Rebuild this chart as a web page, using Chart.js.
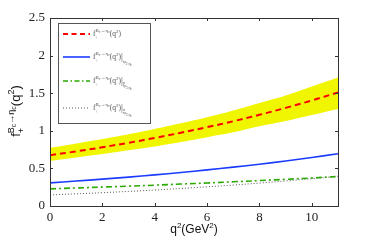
<!DOCTYPE html>
<html><head><meta charset="utf-8">
<script src="https://cdn.jsdelivr.net/npm/chart.js@4"></script>
<style>html,body{margin:0;padding:0;background:#fff}</style>
</head><body>
<canvas id="c" width="374" height="242" style="width:374px;height:242px"></canvas>
<script>
// ---- data ----
const q2 = [0,1,2,3,4,5,6,7,8,9,10,11];
const fTotal = [0.675,0.726,0.781,0.841,0.905,0.974,1.048,1.127,1.213,1.305,1.404,1.510];
const fUpper = [0.770,0.830,0.890,0.955,1.025,1.100,1.180,1.270,1.370,1.470,1.590,1.710];
const fLower = [0.600,0.645,0.690,0.740,0.790,0.850,0.915,0.980,1.060,1.130,1.210,1.290];
const fTw2   = [0.308,0.332,0.357,0.384,0.414,0.446,0.480,0.517,0.556,0.599,0.645,0.695];
const fTw3p  = [0.228,0.240,0.252,0.264,0.277,0.292,0.306,0.322,0.338,0.355,0.373,0.392];
const fTw3s  = [0.148,0.162,0.177,0.194,0.212,0.233,0.255,0.278,0.305,0.333,0.363,0.395];
const xTicks = [0,2,4,6,8,10];
const yTicks = [0,0.5,1,1.5,2,2.5];
const yTickLabels = ['0','0.5','1','1.5','2','2.5'];

const pts = arr => arr.map((v,i)=>({x:q2[i], y:v}));
const SERIF = '"Liberation Serif", "DejaVu Serif", serif';
const SANS = '"Liberation Sans", Arial, sans-serif';

function rich2(ctx, items, x, y, draw, font, color){
  let cx = x;
  for (const it of items){
    if (it.stack){
      let w=0;
      for (const s of it.stack){
        const ww = s.seq ? rich2(ctx, s.seq, cx, y, draw, font, color) : rich2(ctx,[s],cx,y,draw,font,color);
        w=Math.max(w,ww);
      }
      cx+=w;
    } else {
      ctx.font = it.s + 'px ' + (it.font||font);
      const w = ctx.measureText(it.t).width;
      if (draw){ ctx.fillStyle=color; ctx.fillText(it.t, cx, y+(it.dy||0)); }
      cx+=w;
    }
  }
  return cx-x;
}
function rich2Center(ctx, items, x, y, font, color){
  const w = rich2(ctx, items, 0, 0, false, font, color);
  rich2(ctx, items, x-w/2, y, true, font, color);
}

const decor = {
  id:'decor',
  afterDatasetsDraw(chart){
    const ctx = chart.ctx, a = chart.chartArea;
    const xs = chart.scales.x, ys = chart.scales.y;
    ctx.save();
    ctx.strokeStyle = '#333'; ctx.lineWidth = 1;
    ctx.strokeRect(Math.round(a.left)+0.5, Math.round(a.top)+0.5, Math.round(a.right-a.left), Math.round(a.bottom-a.top));
    ctx.beginPath();
    for (const v of xTicks){
      const px = Math.round(xs.getPixelForValue(v))+0.5;
      ctx.moveTo(px, a.bottom); ctx.lineTo(px, a.bottom-3);
      ctx.moveTo(px, a.top); ctx.lineTo(px, a.top+3);
    }
    for (const v of yTicks){
      const py = Math.round(ys.getPixelForValue(v))+0.5;
      ctx.moveTo(a.left, py); ctx.lineTo(a.left+3, py);
      ctx.moveTo(a.right, py); ctx.lineTo(a.right-3, py);
    }
    ctx.stroke();

    // legend box
    const lx=58.5, ly=23.5, lw=92, lh=100;
    ctx.fillStyle='#fff'; ctx.fillRect(lx,ly,lw,lh);
    ctx.strokeStyle='#555'; ctx.strokeRect(lx,ly,lw,lh);
    const entries = [
      {c:'#ff0000', w:2, d:[5,3.5], y:34, sub:null},
      {c:'#1a3cff', w:1.6, d:[], y:57, sub:''},
      {c:'#2aaa00', w:1.6, d:[5,2.5,1.5,2.5], y:81, sub:'p'},
      {c:'#555555', w:1, d:[1,2], y:108, sub:'\u03c3'}
    ];
    for (const e of entries){
      ctx.beginPath(); ctx.strokeStyle=e.c; ctx.lineWidth=e.w; ctx.setLineDash(e.d);
      ctx.moveTo(63, e.y); ctx.lineTo(90, e.y); ctx.stroke(); ctx.setLineDash([]);
      ctx.textBaseline='alphabetic';
      const m=7.5, s=5;
      const items = [
        {t:'f', s:m},
        {stack:[
          {seq:[{t:'B',s:s,dy:-4},{t:'c',s:3.8,dy:-3},{t:'\u2192\u03b7',s:s,dy:-4},{t:'c',s:3.8,dy:-3}]},
          {t:'+', s:s, dy:2.5}
        ]},
        {t:'(q', s:m},{t:'2',s:s,dy:-3.5},{t:')',s:m}
      ];
      if (e.sub!==null){
        items.push({t:'|', s:m+2, dy:1});
        items.push({stack:[
          {seq:[{t:'\u03c6',s:s,dy:4},{t:(e.sub===''?'2;\u03b7':'3;\u03b7'),s:3.6,dy:6},{t:'c',s:3,dy:7}]},
          {t:e.sub, s:3.8, dy:1}
        ]});
      }
      rich2(ctx, items, 93, e.y+2, true, SERIF, '#555');
    }

    // axis titles
    ctx.textBaseline='alphabetic';
    ctx.save();
    ctx.translate(20, 111); ctx.rotate(-Math.PI/2);
    const M=13, S=9;
    const yt = [
      {t:'f', s:M},
      {stack:[
        {seq:[{t:'B',s:S,dy:-6},{t:'c',s:7,dy:-4},{t:'\u2192\u03b7',s:S,dy:-6},{t:'c',s:7,dy:-4}]},
        {t:'+', s:S, dy:4}
      ]},
      {t:'(q', s:M},{t:'2',s:S,dy:-6},{t:')',s:M}
    ];
    rich2Center(ctx, yt, 0, 0, SANS, '#111');
    ctx.restore();
    const xt = [{t:'q',s:12},{t:'2',s:8,dy:-5},{t:'(GeV',s:12},{t:'2',s:8,dy:-5},{t:')',s:12}];
    rich2Center(ctx, xt, (a.left+a.right)/2, 233, SANS, '#111');
    ctx.restore();
  }
};

new Chart(document.getElementById('c'), {
  type:'line',
  data:{ datasets:[
    {data:pts(fUpper), order:10, borderWidth:0, pointRadius:0, fill:'+1', backgroundColor:'rgb(240,245,0)', borderColor:'rgba(0,0,0,0)', tension:0.4},
    {data:pts(fLower), order:11, borderWidth:0, pointRadius:0, fill:false, borderColor:'rgba(0,0,0,0)', tension:0.4},
    {data:pts(fTotal), order:1, borderColor:'#ff0000', borderWidth:2, borderDash:[6,4], pointRadius:0, fill:false, tension:0.4},
    {data:pts(fTw2), order:2, borderColor:'#1a3cff', borderWidth:1.6, pointRadius:0, fill:false, tension:0.4},
    {data:pts(fTw3p), order:3, borderColor:'#2aaa00', borderWidth:1.6, borderDash:[6,3,2,3], pointRadius:0, fill:false, tension:0.4},
    {data:pts(fTw3s), order:4, borderColor:'#555555', borderWidth:1, borderDash:[1,2], pointRadius:0, fill:false, tension:0.4}
  ]},
  options:{
    responsive:false, animation:false, devicePixelRatio:1,
    layout:{padding:{top:18, right:36, left:0, bottom:0}},
    plugins:{legend:{display:false}, tooltip:{enabled:false}},
    scales:{
      x:{type:'linear', min:0, max:11,
        afterBuildTicks:s=>{s.ticks=xTicks.map(v=>({value:v}));},
        afterFit:s=>{s.height=36;},
        grid:{display:false, drawTicks:false}, border:{display:false},
        ticks:{font:{family:SERIF,size:13}, color:'#222', padding:4, maxRotation:0, autoSkip:false}},
      y:{type:'linear', min:0, max:2.5,
        afterBuildTicks:s=>{s.ticks=yTicks.map(v=>({value:v}));},
        afterFit:s=>{s.width=50;},
        grid:{display:false, drawTicks:false}, border:{display:false},
        ticks:{font:{family:SERIF,size:13}, color:'#222', padding:5, autoSkip:false,
          callback:(v)=>yTickLabels[yTicks.indexOf(v)] ?? ''}}
    }
  },
  plugins:[decor]
});
</script>
</body></html>
